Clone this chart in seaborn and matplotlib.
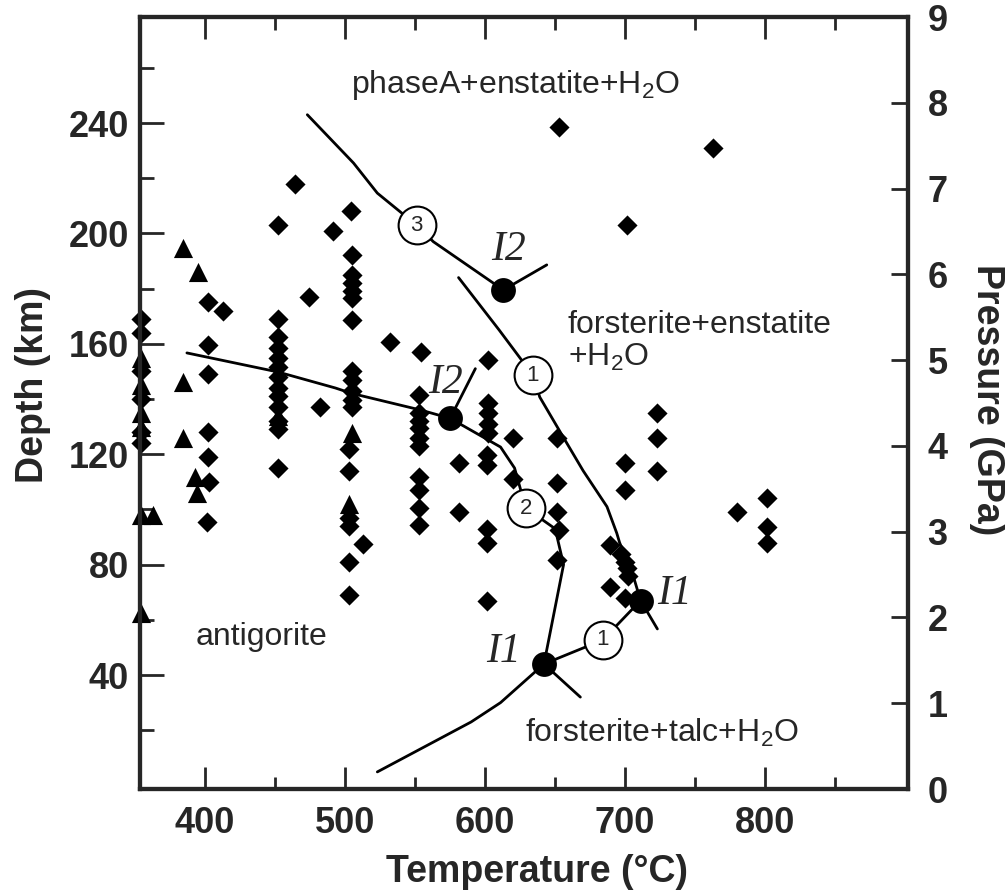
import numpy as np
import pandas as pd
import matplotlib
matplotlib.use('Agg')
import matplotlib.pyplot as plt
import seaborn as sns
from matplotlib.ticker import MultipleLocator, FixedLocator

# experimental points: temperature (C) and depth (km)
diamond_T = [653, 763, 701,
             464, 452, 491, 504,
             505, 505, 505, 505, 505, 505,
             474, 402, 413,
             532, 554, 602,
             452, 452, 452, 452, 452, 452, 452, 452, 452, 452, 452, 452,
             482,
             402, 402, 402, 402, 403, 401,
             505, 505, 505, 505, 505, 503, 503, 503, 503, 503, 503,
             513,
             553, 553, 553, 553, 553, 553, 553, 553, 553, 553,
             581, 581,
             602, 602, 602, 602, 601, 601, 601, 601, 601,
             620, 620,
             651, 651, 651, 653, 651,
             723, 723, 723,
             700, 700,
             689, 697, 700, 701, 702, 689, 700,
             780, 801, 801, 801,
             354, 354, 354, 354, 354, 354]
diamond_D = [238.5, 231, 203,
             218, 203, 201, 208,
             192, 185, 182, 179, 176.5, 168.6,
             177, 175, 172,
             160.6, 157, 154,
             169, 162.5, 158.5, 155, 151.5, 148, 144, 141, 137, 132, 129, 115,
             137,
             159.6, 149, 128, 119, 110, 95.5,
             150, 147, 143, 139.6, 137, 122, 114, 97, 94, 81, 69,
             87.5,
             141.4, 135, 132, 129.5, 126, 123, 111.7, 107, 100.5, 94.3,
             117, 99,
             138.5, 135, 131, 127.7, 119.7, 116, 93, 88, 67,
             126, 111,
             126, 109.5, 99, 92.5, 81.7,
             135, 126, 114,
             117, 107,
             87, 84, 81, 78.8, 76, 72, 68,
             99, 104, 93.5, 88,
             169, 164, 150, 140, 128, 124]

triangle_T = [384, 395, 384, 384, 393, 394, 452, 505, 503,
              354, 354, 354, 354, 354, 363, 354]
triangle_D = [194.7, 186, 146, 126, 111.7, 106, 134, 127.7, 102,
              155, 145, 135, 130, 98, 98, 62.5]

# phase boundaries
curve3_T = [473, 506, 523, 551, 563, 613, 644]
curve3_D = [243, 225.5, 214.6, 203, 197, 179.5, 188.6]
curve1_T = [581, 610, 634, 639, 656, 670, 687, 694, 696, 706, 711, 723]
curve1_D = [184, 165, 148.7, 140.7, 126, 114, 101, 91.4, 88, 75.5, 67, 56.7]
curve2_T = [387, 452, 493, 505, 554, 575, 611, 621, 629, 650, 656, 642, 668]
curve2_D = [156.7, 149.8, 144, 142, 136, 133, 122.6, 115, 100.5, 93, 80, 44, 32]
talc_T = [523, 563, 590, 611, 642, 684, 711]
talc_D = [4.9, 15.7, 23, 30, 44, 52.7, 67]
meta_T = [575, 593]
meta_D = [133, 151]

# invariant points and reaction numbers
inv_T = [613, 575, 711, 642]
inv_D = [179.5, 133, 67, 44]
inv_labels = ['I2', 'I2', 'I1', 'I1']
inv_label_T = [617, 572, 735, 613]
inv_label_D = [194, 146, 69.3, 48.3]
rxn_T = [551, 634, 629, 684]
rxn_D = [203, 148.7, 100.5, 52.7]
rxn_labels = ['3', '1', '2', '1']

sns.set_style('ticks')
plt.rcParams['font.family'] = ['Liberation Sans', 'DejaVu Sans']
plt.rcParams['mathtext.fontset'] = 'custom'
plt.rcParams['mathtext.rm'] = 'Liberation Sans'
plt.rcParams['mathtext.it'] = 'Liberation Sans:italic'

fig = plt.figure(figsize=(10.05, 8.96), dpi=100)
ax = fig.add_axes([0.1393, 0.1194, 0.7642, 0.8616])

pts = pd.DataFrame({'T': diamond_T, 'D': diamond_D})
tri = pd.DataFrame({'T': triangle_T, 'D': triangle_D})

for cx, cy in [(curve3_T, curve3_D), (curve1_T, curve1_D), (curve2_T, curve2_D),
               (talc_T, talc_D), (meta_T, meta_D)]:
    sns.lineplot(x=cx, y=cy, sort=False, estimator=None, color='black', lw=2.0, ax=ax, zorder=2)

sns.scatterplot(data=pts, x='T', y='D', marker='D', s=105, color='black',
                edgecolor='black', linewidth=0, ax=ax, zorder=3, clip_on=False)
sns.scatterplot(data=tri, x='T', y='D', marker='^', s=190, color='black',
                edgecolor='black', linewidth=0, ax=ax, zorder=3, clip_on=False)
sns.scatterplot(x=inv_T, y=inv_D, marker='o', s=320, color='black',
                edgecolor='black', linewidth=0, ax=ax, zorder=4)
sns.scatterplot(x=rxn_T, y=rxn_D, marker='o', s=740, color='white',
                edgecolor='black', linewidth=1.5, ax=ax, zorder=5)

for t, d, lab in zip(rxn_T, rxn_D, rxn_labels):
    ax.text(t, d, lab, ha='center', va='center', fontsize=16, zorder=6)
for t, d, lab in zip(inv_label_T, inv_label_D, inv_labels):
    ax.text(t, d, lab, ha='center', va='center', fontsize=30,
            family='Liberation Serif', style='italic', zorder=6)

ax.text(622, 253.8, 'phaseA+enstatite+H$_2$O', ha='center', va='center', fontsize=23)
ax.text(659, 166.8, 'forsterite+enstatite', ha='left', va='center', fontsize=23)
ax.text(659, 155, '+H$_2$O', ha='left', va='center', fontsize=23)
ax.text(393, 53.8, 'antigorite', ha='left', va='center', fontsize=23)
ax.text(628.6, 19, 'forsterite+talc+H$_2$O', ha='left', va='center', fontsize=23)

ax.set_xlim(353.5, 902)
ax.set_ylim(-1.3, 278.4)
ax.xaxis.set_major_locator(FixedLocator([400, 500, 600, 700, 800]))
ax.xaxis.set_minor_locator(FixedLocator([450, 550, 650, 750, 850]))
ax.yaxis.set_major_locator(FixedLocator([40, 80, 120, 160, 200, 240]))
ax.yaxis.set_minor_locator(FixedLocator([20, 60, 100, 140, 180, 220, 260]))
ax.tick_params(axis='x', which='both', direction='in', top=True, bottom=True, width=2,
               labelsize=26, pad=12)
ax.tick_params(axis='x', which='major', length=16)
ax.tick_params(axis='x', which='minor', length=9)
ax.tick_params(axis='y', which='both', direction='in', left=True, right=False, width=2,
               labelsize=26, pad=8)
ax.tick_params(axis='y', which='major', length=17)
ax.tick_params(axis='y', which='minor', length=10)
for lab in ax.get_xticklabels() + ax.get_yticklabels():
    lab.set_fontweight('bold')

ax2 = ax.twinx()
ax2.set_ylim(0, 9)
ax2.yaxis.set_major_locator(MultipleLocator(1))
ax2.tick_params(axis='y', direction='in', length=12, width=2, labelsize=26, pad=14)
for lab in ax2.get_yticklabels():
    lab.set_fontweight('bold')

for a in (ax, ax2):
    for sp in a.spines.values():
        sp.set_linewidth(3)
        sp.set_visible(True)

ax.set_xlabel('Temperature (\u00b0C)', fontsize=27, fontweight='bold', va='center')
ax.set_ylabel('Depth (km)', fontsize=27, fontweight='bold', va='center')
ax2.set_ylabel('Pressure (GPa)', fontsize=27, fontweight='bold', rotation=270, va='center')
ax.xaxis.set_label_coords(0.517, -0.107)
ax.yaxis.set_label_coords(-0.139, 0.523)
ax2.yaxis.set_label_coords(1.103, 0.504)

fig.savefig('out.png', dpi=100)
